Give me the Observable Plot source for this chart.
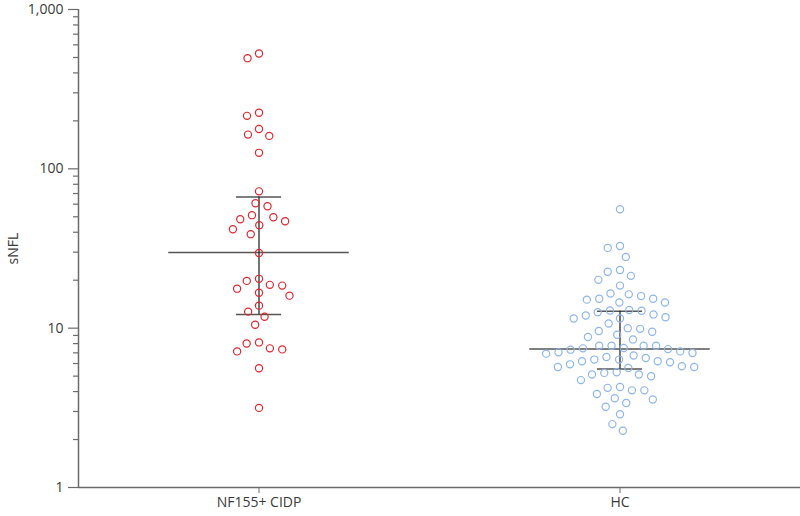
<!DOCTYPE html>
<html>
<head>
<meta charset="utf-8">
<script src="https://cdn.jsdelivr.net/npm/d3@7"></script>
<script src="https://cdn.jsdelivr.net/npm/@observablehq/plot@0.6"></script>
<style>
  html, body { margin: 0; padding: 0; background: #fff; }
  #chart svg { display: block; }
</style>
</head>
<body>
<div id="chart"></div>
<script>
// Groups
const groups = ["NF155+ CIDP", "HC"];
const groupColors = ["#e0282e", "#8db6ea"];

// sNFL values, NF155+ CIDP
const cidpValues = [
  530, 495, 225, 215, 178, 164, 161, 126, 72.2, 60.8, 58.2, 51.2, 49.7, 48.3,
  46.9, 44.3, 41.8, 38.9, 29.6, 20.4, 19.8, 18.7, 18.5, 17.7, 16.7, 16.0,
  13.85, 12.7, 11.8, 10.5, 8.14, 8.02, 7.47, 7.36, 7.15, 5.6, 3.16
];

// sNFL values, HC
const hcValues = [
  55.8, 32.8, 31.9, 28.0, 23.2, 22.6, 21.3, 20.1, 18.5,
  16.5, 16.3, 15.9, 15.3, 15.3, 15.1, 14.5, 14.5,
  13.0, 12.9, 12.85, 12.6, 12.2, 12.0, 11.7, 11.5, 11.5,
  10.7, 10.0, 9.9, 9.6, 9.5, 9.1, 8.8, 8.5,
  7.76, 7.76, 7.76, 7.76, 7.5, 7.47, 7.39, 7.33, 7.15, 7.05,
  6.98, 6.92, 6.73, 6.59, 6.5, 6.35, 6.35, 6.2, 6.2, 6.11,
  5.93, 5.77, 5.71, 5.71, 5.63, 5.29, 5.24, 5.12, 5.12, 4.99, 4.72,
  4.27, 4.22, 4.07, 4.07, 3.86, 3.63, 3.57, 3.39, 3.21, 2.88, 2.5, 2.27
];

// Summary statistics (median and interquartile range) per group
const medians = [29.8, 7.4];
const q1Values = [12.2, 5.55];
const q3Values = [66.5, 12.76];

// Axis ticks
const yTicks = [1, 10, 100, 1000];
const yTickLabels = ["1", "10", "100", "1,000"];
const yMinorTicks = [2, 3, 4, 5, 6, 7, 8, 9, 20, 30, 40, 50, 60, 70, 80, 90, 200, 300, 400, 500, 600, 700, 800, 900];

const points = [
  ...cidpValues.map(v => ({group: groups[0], v})),
  ...hcValues.map(v => ({group: groups[1], v}))
];
const summary = groups.map((g, i) => ({group: g, median: medians[i], q1: q1Values[i], q3: q3Values[i]}));

const axisColor = "#6b6b6b";
const textColor = "#3a3a3a";

const chart = Plot.plot({
  width: 800,
  height: 516,
  marginLeft: 78,
  marginRight: 0,
  marginTop: 9,
  marginBottom: 29,
  style: {fontFamily: "'Open Sans', sans-serif", fontSize: "14px", color: textColor, background: "#fff"},
  fx: {domain: groups, padding: 0, label: null},
  x: {domain: [-1, 1], axis: null},
  y: {type: "log", domain: [1, 1000]},
  color: {domain: groups, range: groupColors},
  marks: [
    Plot.axisY(yMinorTicks, {tickSize: 5, tickFormat: () => "", label: null, stroke: axisColor, strokeWidth: 1.2}),
    Plot.axisY(yTicks, {
      tickSize: 10, tickPadding: 5,
      tickFormat: d => yTickLabels[yTicks.indexOf(d)],
      label: "sNFL", labelAnchor: "center", labelArrow: "none", labelOffset: 70,
      stroke: axisColor, strokeWidth: 1.2, fill: textColor, fontSize: 14
    }),
    Plot.axisFx({anchor: "bottom", tickSize: 6, tickPadding: 4, label: null, stroke: axisColor, fill: textColor, fontSize: 14}),
    Plot.ruleX([-1], {facetAnchor: "left", stroke: axisColor, strokeWidth: 1.5}),
    Plot.ruleY([1], {stroke: axisColor, strokeWidth: 1.5}),
    Plot.ruleY(summary, {fx: "group", y: "median", x1: -0.5, x2: 0.5, stroke: "#555", strokeWidth: 1.5}),
    Plot.ruleY(summary, {fx: "group", y: "q1", x1: -0.125, x2: 0.125, stroke: "#555", strokeWidth: 1.5}),
    Plot.ruleY(summary, {fx: "group", y: "q3", x1: -0.125, x2: 0.125, stroke: "#555", strokeWidth: 1.5}),
    Plot.ruleX(summary, {fx: "group", x: 0, y1: "q1", y2: "q3", stroke: "#1a1a1a", strokeWidth: 1.2}),
    Plot.dot(points, Plot.dodgeX({anchor: "middle", r: 6.2, padding: 0}, {
      fx: "group", y: "v", r: 3.6, stroke: "group", fill: "none", strokeWidth: 1.2
    }))
  ]
});

document.getElementById("chart").appendChild(chart);
</script>
</body>
</html>
